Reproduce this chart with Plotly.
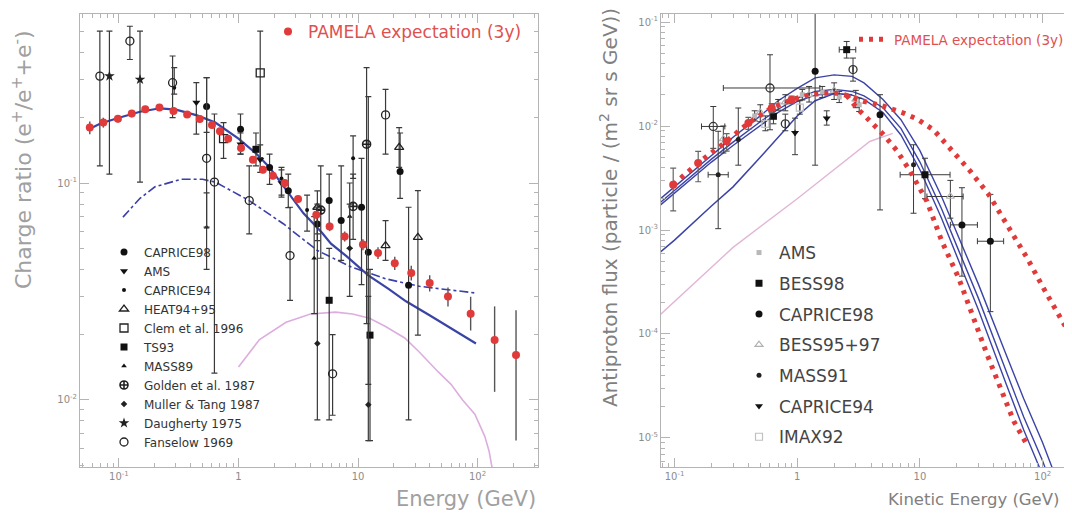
import plotly.graph_objects as go

# ================= LEFT PANEL : positron charge ratio =================
pam_x = [0.057, 0.074, 0.098, 0.128, 0.166, 0.218, 0.286, 0.372, 0.474, 0.60, 0.70, 0.82,
         1.05, 1.32, 1.60, 1.94, 2.44, 3.15, 4.48, 5.79, 7.74, 11.0, 14.7, 20.3, 27.9,
         39.8, 56.6, 87.6, 139, 210]
pam_y = [0.180, 0.190, 0.198, 0.209, 0.219, 0.223, 0.215, 0.207, 0.197, 0.185, 0.173, 0.160,
         0.145, 0.128, 0.115, 0.108, 0.100, 0.0845, 0.0714, 0.063, 0.0567, 0.052, 0.0476,
         0.0427, 0.0385, 0.0346, 0.030, 0.025, 0.0189, 0.0161]
pam_up = [0.012, 0.010, 0.008, 0.008, 0.007, 0.007, 0.007, 0.007, 0.007, 0.006, 0.006, 0.005,
          0.005, 0.004, 0.004, 0.004, 0.004, 0.003, 0.003, 0.003, 0.003, 0.003, 0.003,
          0.003, 0.003, 0.003, 0.003, 0.0049, 0.0081, 0.0098]
pam_dn = [0.012, 0.010, 0.008, 0.008, 0.007, 0.007, 0.007, 0.007, 0.007, 0.006, 0.006, 0.005,
          0.005, 0.004, 0.004, 0.004, 0.004, 0.003, 0.003, 0.003, 0.003, 0.003, 0.003,
          0.003, 0.003, 0.003, 0.003, 0.0041, 0.0080, 0.0096]

solid_x = [0.055, 0.07, 0.1, 0.15, 0.22, 0.3, 0.45, 0.64, 1.0, 1.4, 1.82, 2.5, 3.5, 5.0, 5.94,
           8.0, 12.2, 18, 25.2, 40, 60, 97]
solid_y = [0.176, 0.188, 0.200, 0.213, 0.221, 0.218, 0.205, 0.190, 0.160, 0.137, 0.118, 0.093,
           0.0725, 0.059, 0.0525, 0.046, 0.0375, 0.0325, 0.0285, 0.0245, 0.0213, 0.0182]

dash_x = [0.108, 0.15, 0.2, 0.33, 0.5, 0.64, 1.23, 2.37, 4.56, 8.79, 17.0, 32.7, 63.1, 96.7]
dash_y = [0.0696, 0.085, 0.096, 0.104, 0.104, 0.101, 0.083, 0.0649, 0.0489, 0.041, 0.0362,
          0.0334, 0.032, 0.0311]

pink_x = [1.0, 1.5, 2.5, 4.0, 6.5, 9.0, 12.5, 17, 24.6, 33, 46.7, 60, 75, 95, 115, 125, 133]
pink_y = [0.0142, 0.019, 0.0228, 0.0249, 0.0254, 0.0249, 0.0238, 0.0218, 0.0193, 0.0165,
          0.0135, 0.0118, 0.0100, 0.0086, 0.0068, 0.0058, 0.0048]

# experiments: (energy, ratio, upper end of bar, lower end of bar)
caprice98 = [(0.541, 0.225, 0.306, 0.171), (1.04, 0.177, 0.208, 0.136), (1.82, 0.118, 0.136, 0.0985),
             (2.61, 0.092, 0.110, 0.077), (4.57, 0.0648, 0.0773, 0.0543), (5.74, 0.083, 0.110, 0.0626),
             (7.23, 0.0671, 0.120, 0.044), (10.7, 0.0773, 0.130, 0.034), (12.2, 0.048, 0.25, 0.0118),
             (22.5, 0.113, 0.170, 0.085), (26.5, 0.0338, 0.0773, 0.0081)]
ams = [(0.444, 0.235, 0.290, 0.168), (1.04, 0.151, 0.170, 0.136), (1.52, 0.128, 0.150, 0.112),
       (2.29, 0.100, 0.115, 0.088)]
caprice94 = [(0.290, 0.275, 0.340, 0.257), (2.29, 0.105, 0.118, 0.086), (3.75, 0.075, 0.088, 0.060),
             (9.10, 0.130, 0.165, 0.105)]
heat = [(4.57, 0.0773, 0.092, 0.0583), (17.0, 0.0515, 0.0671, 0.044), (22.1, 0.146, 0.180, 0.118),
        (31.7, 0.0562, 0.0922, 0.0199)]
clem = [(0.75, 0.160, 0.190, 0.130), (1.52, 0.322, 0.501, 0.131)]
ts93 = [(1.40, 0.143, 0.170, 0.120), (5.74, 0.0288, 0.050, 0.0081), (12.6, 0.0199, 0.040, 0.0065)]
mass89 = [(4.3, 0.045, 0.070, 0.025), (8.52, 0.070, 0.100, 0.050), (0.541, 0.0626, 0.090, 0.040)]
golden = [(4.88, 0.075, 0.120, 0.045), (9.1, 0.078, 0.110, 0.055), (11.8, 0.151, 0.340, 0.0225)]
muller = [(4.57, 0.0182, 0.080, 0.0081), (8.52, 0.050, 0.080, 0.030), (12.2, 0.0095, 0.030, 0.0065)]
daugherty = [(0.0832, 0.311, 0.501, 0.110), (0.150, 0.300, 0.501, 0.101)]
fanselow = [(0.0692, 0.311, 0.501, 0.120), (0.1234, 0.451, 0.528, 0.371), (0.281, 0.290, 0.385, 0.200),
            (0.541, 0.130, 0.306, 0.0626), (0.629, 0.101, 0.208, 0.0133), (1.23, 0.083, 0.120, 0.0583),
            (2.70, 0.0463, 0.0773, 0.0288), (6.13, 0.0132, 0.020, 0.0085), (17.0, 0.206, 0.270, 0.136)]

# ================= RIGHT PANEL : antiproton flux =================
band_x = [0.075, 0.1, 0.15, 0.2, 0.3, 0.5, 0.7, 1.0, 1.4, 2.0, 2.8, 3.5, 5, 7, 10, 15, 20, 30,
          50, 70, 100, 130]
band_top = [1.95e-3, 2.6e-3, 3.9e-3, 5.2e-3, 7.8e-3, 0.0125, 0.0175, 0.023, 0.029, 0.031, 0.030,
            0.026, 0.018, 0.0115, 0.0058, 2.1e-3, 9.5e-4, 3.0e-4, 6.5e-5, 2.4e-5, 9e-6, 4e-6]
band_mid = [1.8e-3, 2.4e-3, 3.6e-3, 4.8e-3, 7.0e-3, 0.0110, 0.0145, 0.0185, 0.0215, 0.0225,
            0.0215, 0.0195, 0.0150, 0.0095, 0.0045, 1.6e-3, 7.0e-4, 2.2e-4, 4.5e-5, 1.6e-5,
            6.0e-6, 2.6e-6]
band_low = [1.7e-3, 2.25e-3, 3.35e-3, 4.5e-3, 6.5e-3, 0.0102, 0.0135, 0.0172, 0.0198, 0.0205,
            0.0198, 0.0180, 0.0135, 0.0082, 0.0038, 1.3e-3, 5.6e-4, 1.7e-4, 3.4e-5, 1.2e-5,
            4.4e-6, 2.0e-6]
low_x = [0.075, 0.1, 0.2, 0.3, 0.5, 0.7, 1.0, 1.4, 2.0, 2.8]
low_y = [6.0e-4, 8.0e-4, 1.7e-3, 2.6e-3, 5.0e-3, 7.8e-3, 0.0125, 0.0175, 0.0205, 0.0200]
pinkr_x = [0.075, 0.3, 1.0, 2.0, 3.9, 6.0]
pinkr_y = [1.5e-4, 6.8e-4, 2.0e-3, 3.8e-3, 7.1e-3, 8.5e-3]

rpam_x = [0.0976, 0.156, 0.266, 0.40, 0.62, 0.90]
rpam_y = [2.73e-3, 4.41e-3, 7.13e-3, 0.0107, 0.0149, 0.0179]
rpam_up = [1.2e-3, 1.3e-3, 1.3e-3, 1.4e-3, 1.5e-3, 1.5e-3]
rpam_dn = [1.2e-3, 1.5e-3, 1.4e-3, 1.4e-3, 1.5e-3, 1.5e-3]
rhigh_x = [0.0976, 0.156, 0.266, 0.40, 0.62, 0.90, 1.20, 1.64, 2.10, 2.53, 3.47, 5.05, 7.36,
           9.46, 12.9, 18.2, 25.8, 36.4, 51.3, 74.7, 105, 149, 180]
rhigh_y = [2.73e-3, 4.41e-3, 7.13e-3, 0.0107, 0.0149, 0.0179, 0.0197, 0.0207, 0.0207, 0.0197,
           0.0173, 0.0155, 0.0133, 0.0117, 9.2e-3, 5.92e-3, 3.66e-3, 2.19e-3, 1.12e-3, 5.38e-4,
           2.57e-4, 1.28e-4, 8.5e-5]
rlow_x = [2.53, 3.06, 3.93, 5.05, 6.49, 8.34, 11.4, 15.1, 20.7, 26.6, 35.3, 45.3, 58.2, 74.7]
rlow_y = [0.0197, 0.0149, 0.0111, 8.26e-3, 5.8e-3, 3.66e-3, 1.89e-3, 7.78e-4, 3.45e-4, 1.53e-4,
          6.33e-5, 3.03e-5, 1.45e-5, 8.6e-6]

# (energy, flux, bar top, bar bottom, bar left, bar right)
r_ams = [(0.45, 0.0125, 0.0140, 0.0112, 0.45, 0.45), (0.70, 0.0160, 0.0180, 0.0142, 0.70, 0.70),
         (1.10, 0.0200, 0.0225, 0.0178, 1.10, 1.10), (1.60, 0.0212, 0.0240, 0.0188, 1.60, 1.60),
         (2.20, 0.0190, 0.0215, 0.0168, 2.20, 2.20), (3.20, 0.0160, 0.0185, 0.0138, 3.20, 3.20)]
r_bess98 = [(0.64, 0.0124, 0.0145, 0.0105, 0.64, 0.64), (2.53, 0.0542, 0.065, 0.045, 2.2, 3.0),
            (11.0, 3.4e-3, 4.9e-3, 2.0e-3, 6.9, 17.6)]
r_caprice98 = [(1.40, 0.0336, 0.15, 4.2e-3, 1.40, 1.40), (4.73, 0.0128, 0.020, 1.56e-3, 4.73, 4.73),
               (22.0, 1.12e-3, 2.55e-3, 3.6e-4, 17.7, 29.4), (37.5, 7.8e-4, 2.2e-3, 1.64e-4, 29.4, 48.1)]
r_bess9597 = [(0.25, 7.5e-3, 0.010, 5.5e-3, 0.25, 0.25), (0.50, 0.0135, 0.016, 0.011, 0.50, 0.50),
              (0.80, 0.017, 0.020, 0.014, 0.80, 0.80), (1.25, 0.020, 0.024, 0.017, 1.25, 1.25),
              (2.0, 0.022, 0.026, 0.018, 2.0, 2.0), (3.0, 0.018, 0.022, 0.015, 3.0, 3.0),
              (17.7, 2.1e-3, 3.0e-3, 1.3e-3, 11.4, 22.5)]
r_mass91 = [(0.227, 3.4e-3, 8.9e-3, 1.03e-3, 0.188, 0.274), (0.331, 7.4e-3, 0.0149, 4.2e-3, 0.331, 0.331),
            (8.87, 4.25e-3, 6.6e-3, 1.45e-3, 8.87, 8.87)]
r_caprice94 = [(0.96, 8.6e-3, 0.0119, 5.3e-3, 0.96, 0.96), (1.74, 0.0119, 0.014, 0.0102, 1.74, 1.74)]
r_imax92 = [(0.55, 0.0105, 0.0125, 0.0090, 0.55, 0.55), (1.05, 0.0150, 0.0175, 0.0130, 1.05, 1.05)]
r_other = [(0.207, 9.9e-3, 0.0154, 6.1e-3, 0.166, 0.257), (0.60, 0.0232, 0.0484, 9.2e-3, 0.25, 1.53),
           (2.85, 0.0349, 0.045, 0.027, 2.85, 2.85), (0.80, 0.0105, 0.013, 0.0090, 0.80, 0.80)]

# tick labels
x_tickvals = [0.1, 1, 10, 100]
x_ticktext = ["10<sup>-1</sup>", "1", "10", "10<sup>2</sup>"]
yl_tickvals = [0.01, 0.1]
yl_ticktext = ["10<sup>-2</sup>", "10<sup>-1</sup>"]
yr_tickvals = [1e-5, 1e-4, 1e-3, 1e-2, 1e-1]
yr_ticktext = ["10<sup>-5</sup>", "10<sup>-4</sup>", "10<sup>-3</sup>", "10<sup>-2</sup>", "10<sup>-1</sup>"]

FONT = "DejaVu Sans"
BAR = "#3a3a3a"

fig = go.Figure()


def add_left(rows, name, symbol, size, color, lw=0):
    fig.add_trace(go.Scatter(
        x=[r[0] for r in rows], y=[r[1] for r in rows], mode="markers", name=name,
        xaxis="x", yaxis="y", legend="legend",
        marker=dict(symbol=symbol, size=size, color=color, line=dict(color=color, width=lw)),
        error_y=dict(type="data", symmetric=False, array=[r[2] - r[1] for r in rows],
                     arrayminus=[r[1] - r[3] for r in rows], color=BAR, thickness=1.2, width=3)))


def add_right(rows, name, symbol, size, color, lw=0, show=True):
    fig.add_trace(go.Scatter(
        x=[r[0] for r in rows], y=[r[1] for r in rows], mode="markers", name=name,
        xaxis="x2", yaxis="y2", legend="legend2", legendgroup=name, showlegend=show,
        marker=dict(symbol=symbol, size=size, color=color, line=dict(color=color, width=lw)),
        error_y=dict(type="data", symmetric=False, array=[r[2] - r[1] for r in rows],
                     arrayminus=[r[1] - r[3] for r in rows], color=BAR, thickness=1.0, width=3),
        error_x=dict(type="data", symmetric=False, array=[r[5] - r[0] for r in rows],
                     arrayminus=[r[0] - r[4] for r in rows], color=BAR, thickness=1.0, width=3)))


# ---- left curves
fig.add_trace(go.Scatter(x=pink_x, y=pink_y, mode="lines", line=dict(color="#dcaede", width=1.6),
                         xaxis="x", yaxis="y", showlegend=False))
fig.add_trace(go.Scatter(x=dash_x, y=dash_y, mode="lines", line=dict(color="#3b3fa8", width=1.6, dash="dashdot"),
                         xaxis="x", yaxis="y", showlegend=False))
fig.add_trace(go.Scatter(x=solid_x, y=solid_y, mode="lines", line=dict(color="#3a44a6", width=2.2),
                         xaxis="x", yaxis="y", showlegend=False))

# ---- left data
add_left(caprice98, "CAPRICE98", "circle", 7, "#111111")
add_left(ams, "AMS", "triangle-down", 7, "#111111")
add_left(caprice94, "CAPRICE94", "circle", 4, "#111111")
add_left(heat, "HEAT94+95", "triangle-up-open", 8, "#222222", 1.3)
add_left(clem, "Clem et al. 1996", "square-open", 8, "#222222", 1.3)
add_left(ts93, "TS93", "square", 7, "#111111")
add_left(mass89, "MASS89", "triangle-up", 5, "#111111")
add_left(golden, "Golden et al. 1987", "circle-cross-open", 8, "#222222", 1.6)
add_left(muller, "Muller & Tang 1987", "diamond", 5, "#222222")
add_left(daugherty, "Daugherty 1975", "star", 8, "#222222")
add_left(fanselow, "Fanselow 1969", "circle-open", 8, "#222222", 1.3)

fig.add_trace(go.Scatter(
    x=pam_x, y=pam_y, mode="markers", name="PAMELA expectation (3y)", xaxis="x", yaxis="y",
    legend="legend3", marker=dict(symbol="circle", size=8, color="#e03a3a"),
    error_y=dict(type="data", symmetric=False, array=pam_up, arrayminus=pam_dn,
                 color="#555555", thickness=1.4, width=0)))

# ---- right curves
fig.add_trace(go.Scatter(x=pinkr_x, y=pinkr_y, mode="lines", line=dict(color="#e2b6d6", width=1.4),
                         xaxis="x2", yaxis="y2", showlegend=False))
fig.add_trace(go.Scatter(x=low_x, y=low_y, mode="lines", line=dict(color="#3b43a6", width=1.5),
                         xaxis="x2", yaxis="y2", showlegend=False))
for yy in (band_low, band_mid, band_top):
    fig.add_trace(go.Scatter(x=band_x, y=yy, mode="lines", line=dict(color="#3b43a6", width=1.4),
                             xaxis="x2", yaxis="y2", showlegend=False))

# ---- right data
add_right(r_ams, "AMS", "square", 5, "#b8b8b8")
add_right(r_bess98, "BESS98", "square", 7, "#111111")
add_right(r_caprice98, "CAPRICE98", "circle", 7, "#111111")
add_right(r_bess9597, "BESS95+97", "triangle-up-open", 7, "#b0b0b0", 1.2)
add_right(r_mass91, "MASS91", "circle", 5, "#222222")
add_right(r_caprice94, "CAPRICE94", "triangle-down", 7, "#111111")
add_right(r_imax92, "IMAX92", "square-open", 7, "#c0c0c0", 1.2)
add_right(r_other, "other", "circle-open", 8, "#333333", 1.3, show=False)

# ---- right PAMELA expectation
fig.add_trace(go.Scatter(x=rlow_x, y=rlow_y, mode="lines", xaxis="x2", yaxis="y2", showlegend=False,
                         line=dict(color="#e03a3a", width=5, dash="4px,6px")))
fig.add_trace(go.Scatter(x=rhigh_x, y=rhigh_y, mode="lines", xaxis="x2", yaxis="y2",
                         name="PAMELA expectation (3y)", legend="legend4",
                         line=dict(color="#e03a3a", width=5, dash="4px,6px")))
fig.add_trace(go.Scatter(
    x=rpam_x, y=rpam_y, mode="markers", xaxis="x2", yaxis="y2", showlegend=False,
    marker=dict(symbol="circle", size=8, color="#e03a3a"),
    error_y=dict(type="data", symmetric=False, array=rpam_up, arrayminus=rpam_dn,
                 color="#666666", thickness=1.2, width=3)))

W, H = 1072, 514
AX = "#b4b4b4"
TICKF = dict(family=FONT, size=10, color="#8c8c8c")


def axis(domain, rng, tv, tt, anchor):
    return dict(type="log", domain=domain, range=rng, anchor=anchor, tickmode="array",
                tickvals=tv, ticktext=tt, ticks="inside", ticklen=9, tickwidth=1, tickcolor=AX,
                showline=True, linecolor=AX, linewidth=1, mirror="allticks", showgrid=False,
                zeroline=False, tickfont=TICKF,
                minor=dict(ticks="inside", ticklen=4, tickcolor=AX, dtick="D1", showgrid=False))


ytop, ybot = 1 - 6 / H, 1 - 459 / H


def ann(text, x, y, size, color, angle=0):
    return dict(text=text, x=x / W, y=1 - y / H, xref="paper", yref="paper", showarrow=False,
                textangle=angle, xanchor="center", yanchor="middle",
                font=dict(family=FONT, size=size, color=color))


fig.update_layout(
    width=W, height=H, margin=dict(l=0, r=0, t=0, b=0),
    paper_bgcolor="white", plot_bgcolor="white", font=dict(family=FONT),
    xaxis=axis([72 / W, 530 / W], [-1.326, 2.506], x_tickvals, x_ticktext, "y"),
    yaxis=axis([ybot, ytop], [-2.309, -0.221], yl_tickvals, yl_ticktext, "x"),
    xaxis2=axis([653 / W, 1069 / W], [-1.11, 2.28], x_tickvals, x_ticktext, "y2"),
    yaxis2=axis([ybot, ytop], [-5.279, -0.923], yr_tickvals, yr_ticktext, "x2"),
    legend=dict(x=96 / W, y=1 - 229.5 / H, xanchor="left", yanchor="top",
                font=dict(family=FONT, size=12, color="#333333"), bgcolor="rgba(0,0,0,0)",
                tracegroupgap=0),
    legend2=dict(x=731 / W, y=1 - 227 / H, xanchor="left", yanchor="top",
                 font=dict(family=FONT, size=17, color="#444444"), bgcolor="rgba(0,0,0,0)",
                 tracegroupgap=5.6),
    legend3=dict(x=260 / W, y=1 - 6 / H, xanchor="left", yanchor="top",
                 font=dict(family=FONT, size=17, color="#e05050"), bgcolor="rgba(0,0,0,0)"),
    legend4=dict(x=846 / W, y=1 - 16 / H, xanchor="left", yanchor="top",
                 font=dict(family=FONT, size=13.5, color="#e05050"), bgcolor="rgba(0,0,0,0)"),
    annotations=[
        ann("Charge ratio (e<sup>+</sup>/e<sup>+</sup>+e<sup>-</sup>)", 14, 152, 22, "#a0a0a0", -90),
        ann("Energy (GeV)", 458, 491, 21, "#a0a0a0"),
        ann("Antiproton flux (particle / (m<sup>2</sup> sr s GeV))", 601, 200, 20, "#808080", -90),
        ann("Kinetic Energy (GeV)", 966, 491, 16.5, "#808080"),
    ],
)

fig.write_html("out.html")
